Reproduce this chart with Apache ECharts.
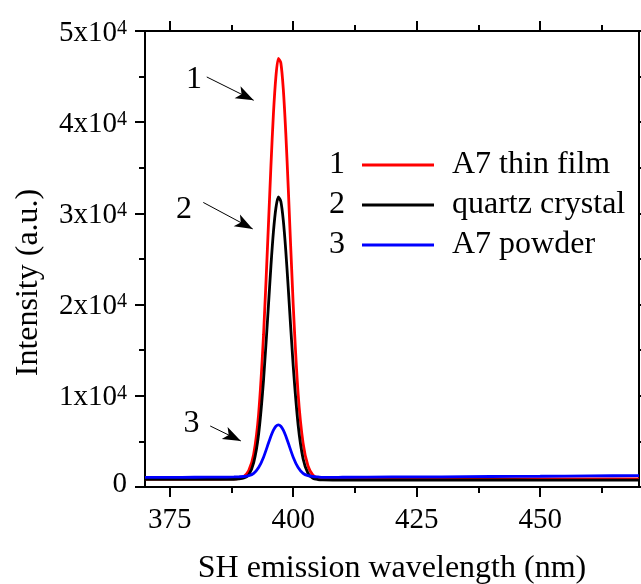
<!DOCTYPE html>
<html>
<head>
<meta charset="utf-8">
<script src="https://cdn.jsdelivr.net/npm/echarts@6/dist/echarts.min.js"></script>
<style>
html,body{margin:0;padding:0;background:#fff;}
#chart{width:641px;height:584px;}
</style>
</head>
<body>
<div id="chart"></div>
<script>
// ---- data ----
const wavelength = [370, 375, 380, 385, 388, 389, 390, 391, 392, 393, 394, 395, 395.5, 396, 396.5, 397, 397.5, 398, 398.5, 399, 400, 401, 402, 403, 404, 405, 406, 408, 410, 420, 430, 440, 450, 460, 470];
const filmA7 = [860, 860, 870, 870, 880, 950, 1150, 1800, 3600, 8000, 16700, 28900, 35300, 40950, 45000, 47000, 46500, 43600, 38800, 32800, 20000, 10200, 4800, 2300, 1300, 1000, 930, 900, 900, 900, 900, 900, 900, 900, 900];
const quartz = [840, 840, 840, 850, 850, 880, 980, 1350, 2660, 5800, 11750, 20000, 24300, 28000, 30600, 31800, 31300, 29200, 25900, 21800, 13300, 6800, 3100, 1500, 950, 820, 780, 770, 770, 770, 770, 770, 760, 760, 760];
const powderA7 = [1050, 1060, 1070, 1080, 1100, 1120, 1150, 1240, 1500, 2130, 3270, 4820, 5590, 6240, 6670, 6820, 6670, 6240, 5590, 4820, 3270, 2130, 1500, 1240, 1150, 1100, 1050, 1050, 1070, 1100, 1120, 1150, 1180, 1220, 1250];
const seriesNames = ['A7 thin film', 'quartz crystal', 'A7 powder'];
const seriesNumbers = ['1', '2', '3'];
const xMajorTicks = [375, 400, 425, 450];
const xMinorTicks = [387.5, 412.5, 437.5, 462.5];
const yTicks = [0, 10000, 20000, 30000, 40000, 50000];
// annotation arrows: [xStart, yStart, xEnd, yEnd] in data units
const arrowLines = [[382.5, 44960, 392.0, 42400], [381.8, 31200, 391.8, 28300], [383.2, 6690, 389.4, 5050]];
// annotation labels: [text, x, y]
const arrowLabels = [['1', 379.9, 44700], ['2', 377.9, 30400], ['3', 379.4, 6900]];

const FONT = 'Liberation Serif';
const colors = ['#ff0000', '#000000', '#0000ff'];
const values = [filmA7, quartz, powderA7];

const chart = echarts.init(document.getElementById('chart'), null, {renderer: 'canvas'});

function axisBase(extra) {
  return Object.assign({
    type: 'value',
    min: 370, max: 470,
    splitLine: {show: false},
    axisLine: {show: true, onZero: false, lineStyle: {color: '#000', width: 2}},
    axisLabel: {show: false},
    axisTick: {show: true, inside: false, length: 10, lineStyle: {color: '#000', width: 2}}
  }, extra);
}

const xAxes = [
  axisBase({
    position: 'bottom',
    axisTick: {show: true, inside: false, length: 10, customValues: xMajorTicks, lineStyle: {color: '#000', width: 2}},
    axisLabel: {show: true, customValues: xMajorTicks, margin: 19, color: '#000', fontFamily: FONT, fontSize: 29},
    name: 'SH emission wavelength (nm)',
    nameLocation: 'middle',
    nameGap: 66,
    nameTextStyle: {color: '#000', fontFamily: FONT, fontSize: 32}
  }),
  axisBase({position: 'bottom', axisLine: {show: false, onZero: false}, axisTick: {show: true, length: 6, customValues: xMinorTicks, lineStyle: {color: '#000', width: 2}}}),
  axisBase({position: 'top', axisTick: {show: true, length: 10, customValues: xMajorTicks, lineStyle: {color: '#000', width: 2}}}),
  axisBase({position: 'top', axisLine: {show: false, onZero: false}, axisTick: {show: true, length: 6, customValues: xMinorTicks, lineStyle: {color: '#000', width: 2}}})
];

function yBase(extra) {
  return Object.assign({
    type: 'value',
    min: yTicks[0], max: yTicks[yTicks.length - 1], interval: yTicks[1] - yTicks[0],
    splitLine: {show: false},
    axisLine: {show: true, onZero: false, lineStyle: {color: '#000', width: 2}},
    axisTick: {show: true, inside: false, length: 10, lineStyle: {color: '#000', width: 2}},
    minorTick: {show: true, splitNumber: 2, length: 6, lineStyle: {color: '#000', width: 2}},
    minorSplitLine: {show: false},
    axisLabel: {show: false}
  }, extra);
}

const yAxes = [
  yBase({
    position: 'left',
    axisLabel: {
      show: true,
      margin: 18,
      color: '#000',
      padding: [4, 0, 0, 0],
      formatter: function (v) {
        if (v === 0) return '{z|0}';
        return '{n|' + (v / 10000) + 'x10}{s|4}';
      },
      rich: {
        n: {fontFamily: FONT, fontSize: 29, lineHeight: 29, color: '#000'},
        s: {fontFamily: FONT, fontSize: 20, lineHeight: 2, verticalAlign: 'top', color: '#000'},
        z: {fontFamily: FONT, fontSize: 29, lineHeight: 29, padding: [0, 0, 10, 0], color: '#000'}
      }
    },
    name: 'Intensity (a.u.)',
    nameLocation: 'middle',
    nameGap: 100,
    nameTextStyle: {color: '#000', fontFamily: FONT, fontSize: 32, padding: [0, 47, 0, 0]}
  }),
  yBase({position: 'right'})
];

const series = values.map(function (arr, i) {
  return {
    name: seriesNames[i],
    type: 'line',
    xAxisIndex: 0,
    yAxisIndex: 0,
    data: wavelength.map(function (w, k) { return [w, arr[k]]; }),
    showSymbol: false,
    symbol: 'none',
    smooth: 0.25,
    lineStyle: {color: colors[i], width: 2.8},
    itemStyle: {color: colors[i]},
    z: 3 + i
  };
});

// annotations attached to the last series
series[2].markLine = {
  silent: true,
  animation: false,
  symbol: ['none', 'arrow'],
  symbolSize: [10, 18],
  label: {show: false},
  lineStyle: {color: '#000', width: 1, type: 'solid'},
  data: arrowLines.map(function (a) { return [{coord: [a[0], a[1]]}, {coord: [a[2], a[3]]}]; })
};
series[2].markPoint = {
  silent: true,
  animation: false,
  symbol: 'circle',
  symbolSize: 1,
  itemStyle: {color: 'rgba(0,0,0,0)'},
  label: {show: true, position: 'inside', formatter: '{b}', color: '#000', fontFamily: FONT, fontSize: 32},
  data: arrowLabels.map(function (l) { return {name: l[0], coord: [l[1], l[2]]}; })
};

const option = {
  animation: false,
  backgroundColor: '#fff',
  grid: {left: 145, right: 2, top: 31, bottom: 97, containLabel: false, outerBoundsMode: 'none'},
  xAxis: xAxes,
  yAxis: yAxes,
  legend: {
    show: true,
    orient: 'vertical',
    left: 362,
    top: 149,
    padding: 0,
    itemGap: 8,
    itemWidth: 72,
    itemHeight: 3,
    icon: 'rect',
    selectedMode: false,
    data: seriesNames,
    textStyle: {color: '#000', fontFamily: FONT, fontSize: 32, lineHeight: 32, padding: [0, 0, 0, 13]}
  },
  graphic: seriesNumbers.map(function (t, i) {
    return {
      type: 'text',
      x: 337,
      y: 165 + i * 40,
      style: {text: t, fill: '#000', font: '32px "' + FONT + '"', align: 'center', verticalAlign: 'middle'}
    };
  }),
  series: series
};

chart.setOption(option);
</script>
</body>
</html>
